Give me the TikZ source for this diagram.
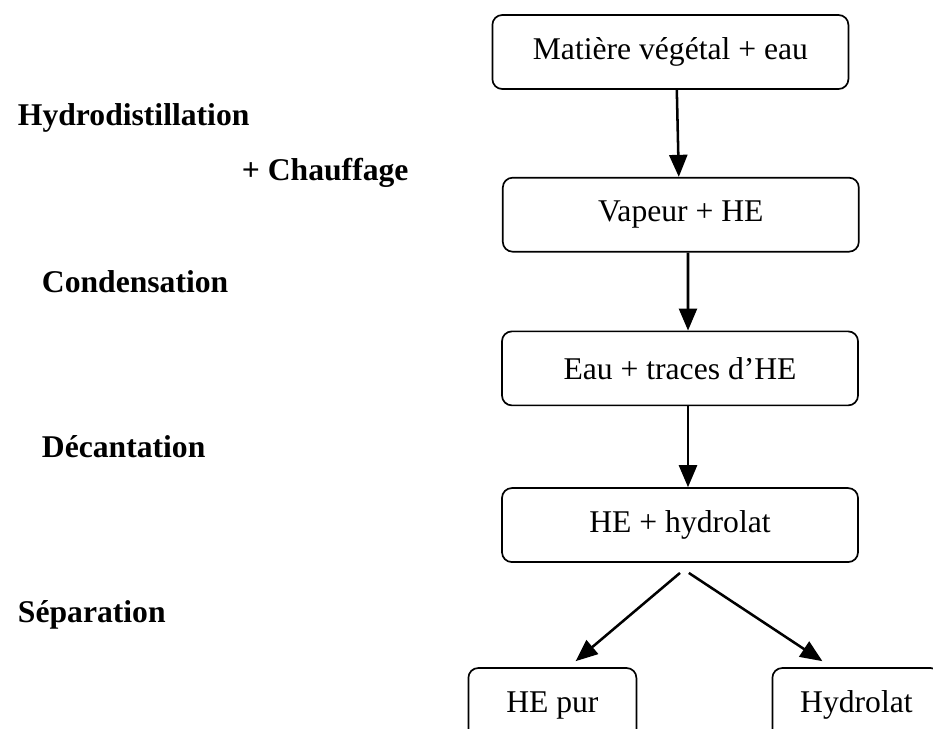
\documentclass[tikz,border=0pt]{standalone}
\usepackage{fontspec}
\setmainfont{Liberation Serif}
\usetikzlibrary{arrows.meta, positioning}

\begin{document}
\begin{tikzpicture}[
    font=\fontsize{22.5}{27}\selectfont,
    box/.style={rectangle, draw=black, line width=1.2pt, rounded corners=7pt,
                minimum width=8.9cm, minimum height=1.85cm,
                align=center, fill=white},
    smallbox/.style={rectangle, draw=black, line width=1.2pt, rounded corners=7pt,
                minimum width=4.2cm, minimum height=1.85cm,
                align=center, fill=white},
    steplabel/.style={anchor=base west, font=\fontsize{22.5}{27}\selectfont\bfseries},
    arrow/.style={-{Triangle[length=0.55cm, width=0.45cm]}, line width=1.8pt}
]
\clip (0,0) rectangle (23.325,-18.2);
\useasboundingbox (0,0) rectangle (23.325,-18.2);

%% ETAPES
\node[steplabel] (hydro) at (0.325,-3.125) {Hydrodistillation};
\node[steplabel] (chauf) at (5.925,-4.5) {+ Chauffage};
\node[steplabel] (cond) at (0.925,-7.3) {Condensation};
\node[steplabel] (decant) at (0.925,-11.425) {Décantation};
\node[steplabel] (separ) at (0.325,-15.55) {Séparation};

%% MATIERE
\node[box] (matiere) at (16.76,-1.3) {Matière végétal + eau};

%% VAPEUR
\node[box, below=2.175cm of matiere, xshift=0.26cm] (vapeur) {Vapeur + HE};

\draw[arrow] ([xshift=0.16cm]matiere.south) -- ([xshift=-0.05cm]vapeur.north);

%% EAU
\node[box, below=1.95cm of vapeur, xshift=-0.02cm] (eau) {Eau + traces d'HE};

\draw[arrow] ([xshift=0.18cm]vapeur.south) -- ([xshift=0.2cm]eau.north);

%% HE + HYDROLAT
\node[box, below=2.025cm of eau] (melange) {HE + hydrolat};

\draw[arrow] ([xshift=0.2cm]eau.south) -- ([xshift=0.2cm]melange.north);

%% SEPARATION
\node[smallbox] (hepur) at (13.81,-17.625) {HE pur};
\node[smallbox] (hydrolat) at (21.41,-17.625) {Hydrolat};

\draw[arrow] ([yshift=-0.25cm]melange.south) -- ([xshift=0.58cm, yshift=0.15cm]hepur.north);
\draw[arrow] ([xshift=0.22cm, yshift=-0.25cm]melange.south) -- ([xshift=-0.85cm, yshift=0.15cm]hydrolat.north);

\end{tikzpicture}
\end{document}
